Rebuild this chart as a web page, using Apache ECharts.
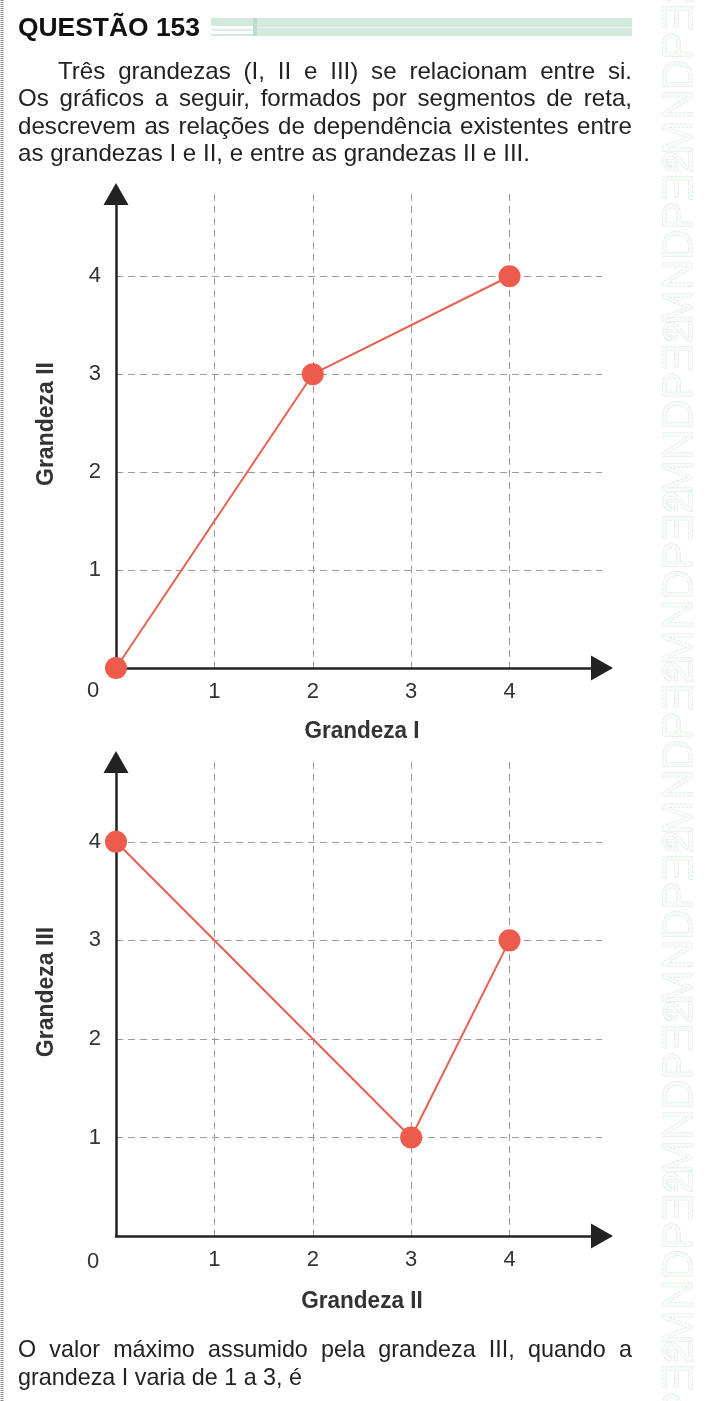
<!DOCTYPE html>
<html>
<head>
<meta charset="utf-8">
<script src="https://cdn.jsdelivr.net/npm/echarts@6/dist/echarts.min.js"></script>
<style>
  html, body { margin: 0; padding: 0; background: #fff; }
  #page { width: 712px; height: 1401px; }
</style>
</head>
<body>
<div id="page"></div>
<script>
// values
const ticks = [1, 2, 3, 4];
const grandezaI = [0, 2, 4];
const grandezaII_top = [0, 3, 4];
const grandezaII = [0, 3, 4];
const grandezaIII = [4, 1, 3];

const FONT = '"Liberation Sans", Arial, sans-serif';
const RED = '#ec5b4b';
const INK = '#222';

const ctx = document.createElement('canvas').getContext('2d');
function textWidth(str, size, weight) {
  ctx.font = (weight || 'normal') + ' ' + size + 'px ' + FONT;
  return ctx.measureText(str).width;
}

function textEl(str, x, y, size, opts) {
  opts = opts || {};
  return {
    type: 'text', x: x, y: y, silent: true,
    scaleX: opts.scaleX || 1, rotation: opts.rotation || 0,
    style: {
      text: str, fontSize: size, fontFamily: FONT, fill: opts.fill || INK,
      fontWeight: opts.weight || 'normal',
      verticalAlign: 'middle', align: opts.align || 'left'
    }
  };
}

// spread the words of one line between x0 and x1 (condensed by sx)
function justify(line, x0, x1, y, size, sx) {
  const words = line.split(' ');
  const widths = words.map(w => textWidth(w, size) * sx);
  const total = widths.reduce((a, b) => a + b, 0);
  const gap = (x1 - x0 - total) / (words.length - 1);
  let x = x0;
  return words.map((w, i) => {
    const el = textEl(w, x, y, size, { scaleX: sx });
    x += widths[i] + gap;
    return el;
  });
}

const graphics = [];

// left border
graphics.push({
  type: 'line', silent: true,
  shape: { x1: 2, y1: 0, x2: 2, y2: 1401 },
  style: { stroke: '#8a8a8a', lineWidth: 3, lineDash: [1, 1] }
});

// decorative strip on the right
for (let i = 0; i < 9; i++) {
  graphics.push({
    type: 'text', silent: true, x: 680, y: -20 + i * 170, rotation: Math.PI / 2,
    style: {
      text: '⁴MNDPƎ2', fontSize: 42, fontFamily: FONT, fill: '#f6fbf8',
      stroke: '#d3e7dc', lineWidth: 1, lineDash: [3, 1], verticalAlign: 'middle', align: 'right'
    }
  });
}

// header
const head = 'QUESTÃO 153';
graphics.push(textEl(head, 18, 29, 26, { weight: 'bold', fill: '#111', scaleX: 182 / textWidth(head, 26, 'bold') }));
graphics.push({ type: 'rect', silent: true, shape: { x: 211, y: 18, width: 421, height: 18 }, style: { fill: '#d2e9dc' } });
graphics.push({ type: 'rect', silent: true, shape: { x: 211, y: 26, width: 42, height: 8 }, style: { fill: '#fff' } });
graphics.push({ type: 'rect', silent: true, shape: { x: 211, y: 29, width: 42, height: 2 }, style: { fill: '#dcefe4' } });
graphics.push({ type: 'rect', silent: true, shape: { x: 253, y: 18, width: 4, height: 18 }, style: { fill: '#bedcca' } });
graphics.push({ type: 'rect', silent: true, shape: { x: 257, y: 27, width: 375, height: 1.5 }, style: { fill: '#e4f2ea' } });

// statement
const lastLine = 'as grandezas I e II, e entre as grandezas II e III.';
const sxBody = 512 / textWidth(lastLine, 24);
graphics.push(...justify('Três grandezas (I, II e III) se relacionam entre si.', 58, 632, 72, 24, sxBody));
graphics.push(...justify('Os gráficos a seguir, formados por segmentos de reta,', 18, 632, 99, 24, sxBody));
graphics.push(...justify('descrevem as relações de dependência existentes entre', 18, 632, 127, 24, sxBody));
graphics.push(textEl(lastLine, 18, 154, 24, { scaleX: sxBody }));

// axis titles
graphics.push(textEl('Grandeza I', 362, 732, 23, { weight: 'bold', fill: '#333', align: 'center', scaleX: 0.98 }));
graphics.push(textEl('Grandeza II', 362, 1302, 23, { weight: 'bold', fill: '#333', align: 'center', scaleX: 0.98 }));
graphics.push(textEl('Grandeza II', 47, 424, 23, { weight: 'bold', fill: '#333', align: 'center', rotation: Math.PI / 2 }));
graphics.push(textEl('Grandeza III', 47, 992, 23, { weight: 'bold', fill: '#333', align: 'center', rotation: Math.PI / 2 }));

// origin labels
graphics.push(textEl('0', 93, 691, 22, { fill: '#333', align: 'center' }));
graphics.push(textEl('0', 93, 1262, 22, { fill: '#333', align: 'center' }));

// question
const lastQ = 'grandeza I varia de 1 a 3, é';
const sxQ = 284 / textWidth(lastQ, 24);
graphics.push(...justify('O valor máximo assumido pela grandeza III, quando a', 18, 632, 1350, 24, sxQ));
graphics.push(textEl(lastQ, 18, 1378, 24, { scaleX: sxQ }));

function tickLabel(v) {
  return ticks.indexOf(v) >= 0 ? String(v) : '';
}

const gridLine = { show: true, showMinLine: false, showMaxLine: false, lineStyle: { color: '#9a9a9a', width: 1, type: [7, 5] } };
const axisLine = { lineStyle: { color: INK, width: 2.5 }, symbol: ['none', 'triangle'], symbolSize: [25, 22] };

function xAxis(gridIndex) {
  return {
    type: 'value', gridIndex: gridIndex, min: 0, max: 4.94, interval: 1,
    axisLine: axisLine,
    axisTick: { show: false },
    axisLabel: { formatter: tickLabel, fontSize: 22, fontFamily: FONT, color: '#333', margin: 13, showMinLabel: false, showMaxLabel: false },
    splitLine: gridLine
  };
}

function yAxis(gridIndex, max) {
  return {
    type: 'value', gridIndex: gridIndex, min: 0, max: max, interval: 1,
    axisLine: axisLine,
    axisTick: { show: false },
    axisLabel: { formatter: tickLabel, fontSize: 22, fontFamily: FONT, color: '#333', margin: 15, showMinLabel: false, showMaxLabel: false },
    splitLine: gridLine
  };
}

function lineSeries(idx, xs, ys) {
  return {
    type: 'line', xAxisIndex: idx, yAxisIndex: idx,
    data: xs.map((x, i) => [x, ys[i]]),
    symbol: 'circle', symbolSize: 22, clip: false, silent: true,
    itemStyle: { color: RED },
    lineStyle: { color: '#e8604e', width: 2 },
    z: 5
  };
}

const chart = echarts.init(document.getElementById('page'), null, { renderer: 'canvas' });
chart.setOption({
  animation: false,
  backgroundColor: '#fff',
  grid: [
    { left: 116, top: 194, width: 486, height: 474 },
    { left: 116, top: 762, width: 486, height: 474 }
  ],
  xAxis: [xAxis(0), xAxis(1)],
  yAxis: [yAxis(0, 4.84), yAxis(1, 4.81)],
  series: [
    lineSeries(0, grandezaI, grandezaII_top),
    lineSeries(1, grandezaII, grandezaIII)
  ],
  graphic: graphics
});
</script>
</body>
</html>
